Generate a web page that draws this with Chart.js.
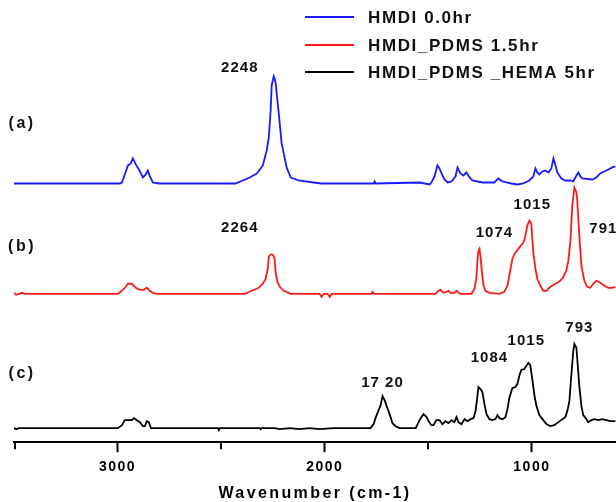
<!DOCTYPE html>
<html><head><meta charset="utf-8">
<script src="https://cdn.jsdelivr.net/npm/chart.js@4.4.1/dist/chart.umd.min.js"></script>
<style>html,body{margin:0;padding:0;background:#fff;}</style>
</head><body>
<canvas id="c" width="616" height="502"></canvas>
<script>
// ---- DATA ----
const seriesNames = ['HMDI 0.0hr', 'HMDI_PDMS 1.5hr', 'HMDI_PDMS _HEMA 5hr'];
const xTitle = 'Wavenumber (cm-1)';

// (a) HMDI 0.0hr — wavenumber (cm-1) and offset absorbance
const aWn  = [3500,2989,2979,2950,2936,2926,2912,2892,2878,2864,2854,2844,2830,2801,2430,2396,2362,2328,2299,2280,2270,2261,2256,2246,2242,2237,2222,2208,2193,2184,2164,2126,2054,2015,1764,1759,1755,1542,1494,1485,1470,1456,1446,1436,1422,1407,1388,1369,1359,1345,1330,1316,1301,1287,1239,1181,1162,1142,1123,1099,1070,1041,1012,993,983,974,964,949,935,920,906,896,886,877,858,839,814,800,785,776,766,757,708,689,670,650,631,612,597];
const aVal = [25.8,25.8,25.9,27.6,27.8,28.3,27.7,27.0,26.4,26.7,27.1,26.5,25.9,25.8,25.8,26.1,26.4,26.8,27.6,29.1,30.4,33.1,35.6,36.5,36.3,35.8,32.8,29.8,28.3,27.4,26.4,26.1,25.9,25.8,25.8,26.0,25.8,25.9,25.7,25.9,26.5,27.6,27.3,26.8,26.2,25.9,26.0,26.5,27.4,26.8,26.6,26.9,26.4,26.1,25.9,25.9,26.3,26.0,25.9,25.8,25.7,25.8,26.1,26.5,27.3,26.9,26.7,27.0,27.1,26.9,27.3,28.3,27.6,26.9,26.3,26.1,26.1,26.0,26.6,26.9,26.5,26.3,26.2,26.4,26.8,27.0,27.2,27.4,27.5];

// (b) HMDI_PDMS 1.5hr
const bWn  = [3500,3490,3476,3461,3447,2999,2979,2960,2950,2931,2912,2892,2873,2859,2844,2830,2811,2386,2362,2319,2299,2285,2275,2270,2261,2251,2242,2237,2227,2217,2198,2174,2164,2025,2015,2005,1986,1976,1967,1774,1769,1759,1465,1451,1441,1427,1412,1403,1393,1374,1364,1354,1345,1292,1277,1268,1263,1258,1253,1248,1243,1234,1224,1205,1157,1133,1118,1109,1094,1080,1061,1041,1032,1022,1012,1003,993,983,974,959,945,930,916,896,877,863,848,834,824,814,805,795,785,781,771,761,747,733,718,704,689,670,650,631,612,597];
const bVal = [14.9,14.7,14.8,14.9,14.8,14.8,15.1,15.5,15.8,15.8,15.4,15.2,15.2,15.4,15.1,14.9,14.8,14.8,15.0,15.4,15.8,16.3,17.3,18.5,18.7,18.7,18.3,16.9,15.9,15.5,15.1,14.9,14.8,14.8,14.5,14.8,14.8,14.5,14.8,14.8,15.0,14.8,14.8,15.1,15.2,14.9,15.0,15.1,14.9,14.9,15.1,14.9,14.8,14.8,15.3,16.4,18.1,19.1,19.3,18.5,17.3,15.7,15.1,14.9,14.8,15.0,15.6,16.6,18.3,18.9,19.4,19.9,20.5,21.6,22.1,21.8,18.9,17.3,16.3,15.6,15.1,15.1,15.4,15.7,15.9,16.1,16.5,17.1,18.1,20.1,23.6,25.4,24.9,24.1,20.6,17.6,16.1,15.5,15.4,15.8,16.1,15.9,15.6,15.4,15.4,15.5];

// (c) HMDI_PDMS _HEMA 5hr
const cWn  = [3500,3490,3476,2999,2979,2965,2931,2921,2907,2892,2878,2868,2859,2849,2839,2516,2511,2507,2314,2309,2304,2242,2217,2169,2121,2073,2025,1957,1779,1764,1755,1740,1730,1721,1711,1701,1692,1682,1673,1658,1639,1561,1547,1537,1523,1508,1499,1485,1475,1461,1446,1432,1417,1403,1388,1374,1364,1354,1340,1325,1311,1296,1282,1272,1263,1258,1248,1239,1229,1219,1205,1190,1176,1166,1157,1142,1128,1118,1109,1094,1080,1070,1061,1051,1037,1027,1017,1008,998,988,978,964,949,930,911,892,872,853,839,829,819,810,800,795,785,781,771,761,752,737,728,713,699,679,660,641,622,597];
const cVal = [1.4,1.3,1.4,1.4,1.7,2.2,2.2,2.4,2.2,2.0,1.6,1.6,2.1,2.0,1.4,1.4,1.2,1.4,1.4,1.3,1.4,1.4,1.3,1.4,1.3,1.4,1.3,1.4,1.4,1.8,2.4,3.2,3.7,4.6,4.2,3.6,3.1,2.5,1.9,1.6,1.4,1.4,2.0,2.4,2.8,2.5,2.1,1.7,1.7,2.2,2.2,1.8,2.1,1.9,2.2,2.0,2.5,2.0,1.8,2.3,2.1,2.3,2.4,3.1,4.6,5.5,5.3,5.0,3.8,2.8,2.3,2.2,2.3,2.7,2.4,2.3,2.5,3.3,4.4,5.4,5.5,5.8,6.6,7.2,7.3,7.6,7.9,7.7,6.3,4.7,3.6,2.7,2.3,1.8,1.6,1.7,2.0,2.3,2.5,3.1,4.1,6.6,9.1,9.8,9.4,8.3,5.6,3.6,2.7,2.3,2.0,2.2,2.3,2.2,2.3,2.2,2.1,2.1];

// x-axis ticks
const xMajorTicks = [3000, 2000, 1000];
const xMinorTicks = [3500, 2500, 1500];

// peak annotations: text, anchor wavenumber, anchor value
const peakText = ['2248', '2264', '1074', '1015', '791', '17 20', '1084', '1015', '793'];
const peakWn   = [2410, 2410, 1181, 998, 655, 1721, 1205, 1027, 771];
const peakVal  = [37.3, 21.4, 20.9, 23.7, 21.3, 5.9, 8.4, 10.1, 11.4];

// trace tags
const tagText = ['(a)', '(b)', '(c)'];
const tagWn   = [3461, 3461, 3461];
const tagVal  = [31.8, 19.5, 6.8];

// ---- STYLE ----
const colors = ['#1a1aff', '#ff1a1a', '#000000'];
const FONT = '"Liberation Sans", Arial, sans-serif';

const toPts = (w, v) => w.map((x, i) => ({x: x, y: v[i]}));

const overlay = {
  id: 'overlay',
  beforeDraw(chart) { chart.ctx.letterSpacing = '1.5px'; },
  afterDraw(chart) {
    const ctx = chart.ctx, xs = chart.scales.x, ys = chart.scales.y, ca = chart.chartArea;
    ctx.save();
    // minor ticks (shorter)
    ctx.strokeStyle = '#000'; ctx.lineWidth = 2;
    const base = ca.bottom;
    xMinorTicks.forEach(v => {
      const px = Math.round(xs.getPixelForValue(v)) + (v === 3500 ? 1 : 0);
      ctx.beginPath(); ctx.moveTo(px, base); ctx.lineTo(px, base + 7); ctx.stroke();
    });
    // axis title
    ctx.fillStyle = '#000';
    ctx.textAlign = 'center'; ctx.textBaseline = 'middle';
    ctx.font = 'bold 16px ' + FONT; ctx.letterSpacing = '2.4px';
    ctx.fillText(xTitle, (ca.left + ca.right) / 2, base + 51);
    // peak labels
    ctx.fillStyle = '#111';
    ctx.font = 'bold 15px ' + FONT; ctx.letterSpacing = '1px';
    peakText.forEach((t, i) => ctx.fillText(t, xs.getPixelForValue(peakWn[i]), ys.getPixelForValue(peakVal[i])));
    ctx.font = 'bold 16px ' + FONT; ctx.letterSpacing = '2.5px';
    tagText.forEach((t, i) => ctx.fillText(t, xs.getPixelForValue(tagWn[i]), ys.getPixelForValue(tagVal[i])));
    // legend
    ctx.textAlign = 'left';
    ctx.font = 'bold 17px ' + FONT; ctx.letterSpacing = '1.6px';
    const lx = 305, lw = 49, tx = 368, rows = [17, 45, 72];
    chart.data.datasets.forEach((ds, i) => {
      ctx.strokeStyle = ds.borderColor; ctx.lineWidth = 2;
      ctx.beginPath(); ctx.moveTo(lx, rows[i]); ctx.lineTo(lx + lw, rows[i]); ctx.stroke();
      ctx.fillStyle = '#111';
      ctx.fillText(ds.label, tx, rows[i] + 1);
    });
    ctx.restore();
  }
};

new Chart(document.getElementById('c'), {
  type: 'line',
  data: {
    datasets: [
      {label: seriesNames[0], data: toPts(aWn, aVal), borderColor: colors[0]},
      {label: seriesNames[1], data: toPts(bWn, bVal), borderColor: colors[1]},
      {label: seriesNames[2], data: toPts(cWn, cVal), borderColor: colors[2]}
    ]
  },
  options: {
    responsive: false,
    devicePixelRatio: 1,
    animation: false,
    parsing: false,
    layout: {padding: {left: 14, right: 0, top: 0, bottom: 19}},
    elements: {point: {radius: 0}, line: {borderWidth: 1.8, tension: 0}},
    plugins: {legend: {display: false}, tooltip: {enabled: false}},
    scales: {
      x: {
        type: 'linear', reverse: true, min: 594, max: 3500,
        afterBuildTicks: axis => { axis.ticks = xMajorTicks.map(v => ({value: v})); },
        ticks: {
          autoSkip: false, maxRotation: 0, padding: 7, color: '#000',
          font: {family: FONT, size: 14, weight: 'bold'},
          callback: v => String(v)
        },
        grid: {drawOnChartArea: false, drawTicks: true, tickLength: 10, tickColor: '#000', tickWidth: 2},
        border: {display: true, color: '#000', width: 2},
        title: {display: false}
      },
      y: {display: false, min: 0, max: 44.1}
    }
  },
  plugins: [overlay]
});
</script>
</body></html>
